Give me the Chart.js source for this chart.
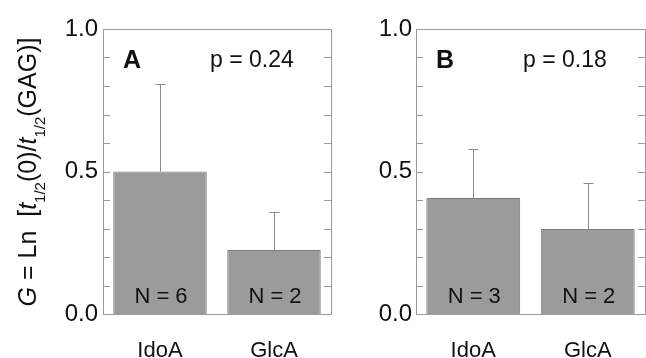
<!DOCTYPE html>
<html>
<head>
<meta charset="utf-8">
<script src="https://cdn.jsdelivr.net/npm/chart.js@4"></script>
<style>
  html, body { margin: 0; padding: 0; background: #fff; }
  #wrap { position: relative; width: 646px; height: 358px; overflow: hidden; }
  canvas { position: absolute; top: 0; }
</style>
</head>
<body>
<div id="wrap">
  <canvas id="chartA" width="336" height="358" style="left:0"></canvas>
  <canvas id="chartB" width="310" height="358" style="left:336px"></canvas>
</div>
<script>
const categories = ['IdoA', 'GlcA'];

const meansA = [0.50, 0.225];
const errorsA = [0.307, 0.133];
const countsA = [6, 2];
const pValueA = '0.24';

const meansB = [0.407, 0.298];
const errorsB = [0.173, 0.162];
const countsB = [3, 2];
const pValueB = '0.18';

const FONT = 'Arial, "Liberation Sans", sans-serif';

// box, inward ticks, error bars and labels inside the plot
const panelDecor = {
    id: 'panelDecor',
    afterDatasetsDraw(chart, args, opts) {
        const ctx = chart.ctx;
        const area = chart.chartArea;
        const x = chart.scales.x;
        const y = chart.scales.y;
        ctx.save();

        // error bars (upper only, with small cap)
        ctx.strokeStyle = '#8a8a8a';
        ctx.lineWidth = 1;
        opts.means.forEach((m, i) => {
            const px = Math.round(x.getPixelForValue(i)) + 0.5;
            const y0 = y.getPixelForValue(m);
            const y1 = Math.round(y.getPixelForValue(m + opts.errors[i])) + 0.5;
            ctx.beginPath();
            ctx.moveTo(px, y0);
            ctx.lineTo(px, y1);
            ctx.moveTo(px - 5, y1);
            ctx.lineTo(px + 5, y1);
            ctx.stroke();
        });

        // frame
        ctx.strokeStyle = '#9a9a9a';
        ctx.strokeRect(Math.round(area.left) + 0.5, Math.round(area.top) + 0.5,
            Math.round(area.right - area.left), Math.round(area.bottom - area.top));

        // inward ticks on both sides
        y.ticks.forEach(t => {
            if (t.value <= 0.001 || t.value >= 0.999) return;
            const py = Math.round(y.getPixelForValue(t.value)) + 0.5;
            ctx.beginPath();
            ctx.moveTo(area.left, py);
            ctx.lineTo(area.left + 7, py);
            ctx.moveTo(area.right, py);
            ctx.lineTo(area.right - 7, py);
            ctx.stroke();
        });

        // panel letter and p value
        ctx.fillStyle = '#111';
        ctx.textBaseline = 'middle';
        ctx.textAlign = 'left';
        ctx.font = 'bold 25px ' + FONT;
        ctx.fillText(opts.letter, area.left + 20, 61);
        ctx.font = '23px ' + FONT;
        ctx.fillText('p = ' + opts.p, area.left + 107, 61);

        // N counts inside bars
        ctx.textAlign = 'center';
        ctx.font = '22px ' + FONT;
        opts.counts.forEach((n, i) => {
            ctx.fillText('N = ' + n, x.getPixelForValue(i) + 1, y.getPixelForValue(0.06));
        });
        ctx.restore();
    }
};

// rotated y title with italics and subscripts
const yTitle = {
    id: 'yTitle',
    afterDraw(chart, args, opts) {
        if (!opts.show) return;
        const ctx = chart.ctx;
        const parts = [
            { t: 'G', f: 'italic 25px ' },
            { t: ' = Ln  [', f: '25px ' },
            { t: 't', f: 'italic 25px ' },
            { t: '1/2', f: '15px ', sub: true },
            { t: '(0)/', f: '25px ' },
            { t: 't', f: 'italic 25px ' },
            { t: '1/2', f: '15px ', sub: true },
            { t: '(GAG)]', f: '25px ' }
        ];
        ctx.save();
        let total = 0;
        parts.forEach(p => { ctx.font = p.f + FONT; p.w = ctx.measureText(p.t).width; total += p.w; });
        ctx.translate(opts.x, opts.y);
        ctx.rotate(-Math.PI / 2);
        ctx.fillStyle = '#111';
        ctx.textBaseline = 'middle';
        ctx.textAlign = 'left';
        let cx = -total / 2;
        parts.forEach(p => {
            ctx.font = p.f + FONT;
            ctx.fillText(p.t, cx, p.sub ? 12 : 0);
            cx += p.w;
        });
        ctx.restore();
    }
};

function makePanel(canvasId, means, errors, counts, letter, p, yWidth, padRight, tickPad, showTitle) {
    const ctx = document.getElementById(canvasId).getContext('2d');
    return new Chart(ctx, {
        type: 'bar',
        data: {
            labels: categories,
            datasets: [{
                data: means,
                backgroundColor: '#9b9b9b',
                borderColor: '#7c7c7c',
                borderWidth: 1,
                barPercentage: 0.82,
                categoryPercentage: 1.0
            }]
        },
        options: {
            responsive: false,
            animation: false,
            layout: { padding: { top: 29, right: padRight, left: 0, bottom: 0 } },
            plugins: {
                legend: { display: false },
                tooltip: { enabled: false },
                panelDecor: { means: means, errors: errors, counts: counts, letter: letter, p: p },
                yTitle: { show: showTitle, x: 29, y: 172 }
            },
            scales: {
                x: {
                    grid: { display: false, drawTicks: false },
                    border: { display: false },
                    ticks: { color: '#111', font: { family: FONT, size: 22 }, padding: 24 },
                    afterFit(scale) { scale.height = 44; }
                },
                y: {
                    min: 0,
                    max: 1,
                    grid: { display: false, drawTicks: false },
                    border: { display: false },
                    ticks: {
                        stepSize: 0.1,
                        autoSkip: false,
                        padding: tickPad,
                        color: '#111',
                        font: { family: FONT, size: 24 },
                        callback(v) {
                            const d = v * 2;
                            return Math.abs(d - Math.round(d)) < 1e-6 ? v.toFixed(1) : '';
                        }
                    },
                    afterFit(scale) { scale.width = yWidth; }
                }
            }
        },
        plugins: [panelDecor, yTitle]
    });
}

makePanel('chartA', meansA, errorsA, countsA, 'A', pValueA, 103, 5, 5, true);
makePanel('chartB', meansB, errorsB, countsB, 'B', pValueB, 80, 1, 4, false);
</script>
</body>
</html>
